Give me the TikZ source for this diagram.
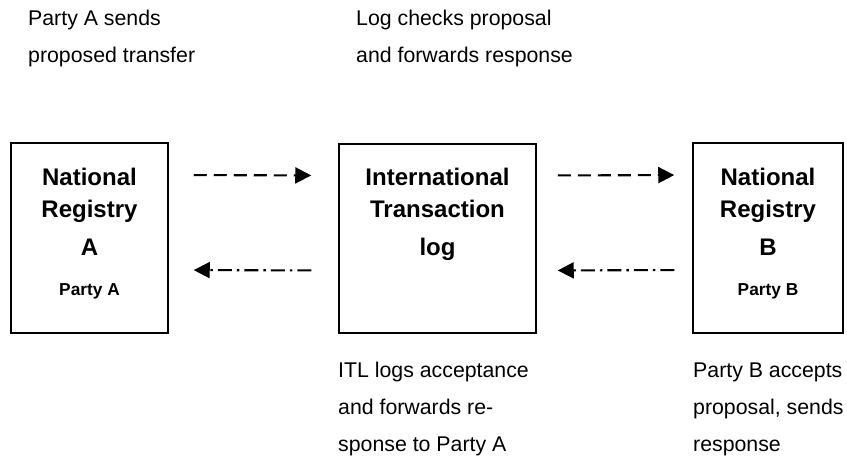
\documentclass[tikz,border=0pt]{standalone}
\usepackage{fontspec}
\setmainfont{Liberation Sans}
\usetikzlibrary{arrows.meta}

\begin{document}
\begin{tikzpicture}[x=1pt,y=-1pt,
  registry/.style={draw=black,line width=1.5pt,rectangle,inner sep=0pt},
  boxtitle/.style={anchor=base,inner sep=0pt,font=\fontsize{24}{28}\selectfont\bfseries},
  boxparty/.style={anchor=base,inner sep=0pt,font=\fontsize{17.3}{20}\selectfont\bfseries},
  caption/.style={anchor=base west,inner sep=0pt,font=\fontsize{21.3}{26}\selectfont},
  fwdflow/.style={line width=2.1pt,dash pattern=on 13pt off 7pt,
    -{Triangle[length=16pt,width=16pt]}},
  backflow/.style={line width=2.1pt,dash pattern=on 14pt off 5pt on 2.5pt off 5pt,
    -{Triangle[length=16pt,width=16pt]}}]
\useasboundingbox (0,0) rectangle (847,459);

% the three boxes
\node[registry,minimum width=157pt,minimum height=190pt] (regA) at (89.5,238) {};
\node[registry,minimum width=197pt,minimum height=189pt] (itl) at (437.5,238.5) {};
\node[registry,minimum width=150pt,minimum height=190pt] (regB) at (768,238) {};

% box contents
\node[boxtitle] (regA1) at (89.5,185) {National};
\node[boxtitle] (regA2) at (89.5,217.5) {Registry};
\node[boxtitle] (regA3) at (89.5,255) {A};
\node[boxparty] (regA4) at (89.5,295) {Party A};

\node[boxtitle] (itl1) at (437.5,185) {International};
\node[boxtitle] (itl2) at (437.5,217.5) {Transaction};
\node[boxtitle] (itl3) at (437.5,255) {log};

\node[boxtitle] (regB1) at (768,185) {National};
\node[boxtitle] (regB2) at (768,217.5) {Registry};
\node[boxtitle] (regB3) at (768,255) {B};
\node[boxparty] (regB4) at (768,295) {Party B};

% message flows
\draw[fwdflow,shorten <=25pt,shorten >=27pt]
  ([yshift=63pt]regA.east) -- ([yshift=63pt]itl.west);
\draw[fwdflow,shorten <=21pt,shorten >=18pt]
  ([yshift=63pt]itl.east) -- ([yshift=63pt]regB.west);
\draw[backflow,shorten <=27pt,shorten >=25pt]
  ([yshift=-32pt]itl.west) -- ([yshift=-32pt]regA.east);
\draw[backflow,shorten <=18pt,shorten >=21pt]
  ([yshift=-32pt]regB.west) -- ([yshift=-32pt]itl.east);

% step descriptions
\node[caption] (capA1) at (28,25) {Party A sends};
\node[caption] (capA2) at (28,62) {proposed transfer};
\node[caption] (capL1) at (356,25) {Log checks proposal};
\node[caption] (capL2) at (356,62) {and forwards response};
\node[caption] (capI1) at (338,377) {ITL logs acceptance};
\node[caption] (capI2) at (338,414.5) {and forwards re-};
\node[caption] (capI3) at (338,451.5) {sponse to Party A};
\node[caption] (capB1) at (693,377) {Party B accepts};
\node[caption] (capB2) at (693,414.5) {proposal, sends};
\node[caption] (capB3) at (693,451.5) {response};
\end{tikzpicture}
\end{document}
